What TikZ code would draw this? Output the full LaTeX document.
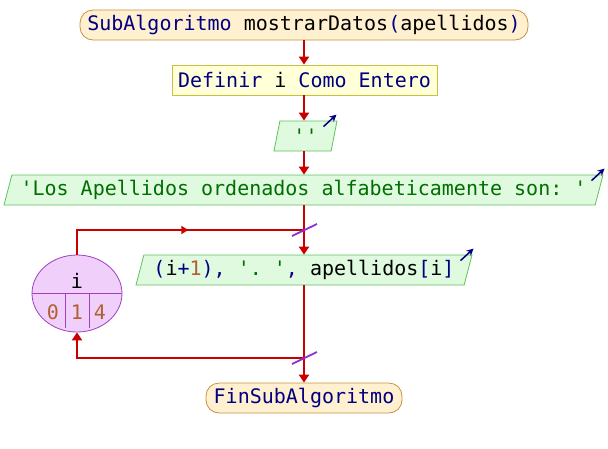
\documentclass[tikz,border=0pt]{standalone}
\usepackage{fontspec}
\usetikzlibrary{calc,decorations.markings}
\usetikzlibrary{shapes.geometric}
\usetikzlibrary{arrows.meta}
\newfontfamily\codefont{DejaVu Sans Mono}
\frenchspacing

\definecolor{flowred}{RGB}{200,0,0}
\definecolor{kwblue}{RGB}{0,0,128}
\definecolor{strgreen}{RGB}{0,110,0}
\definecolor{numbrown}{RGB}{176,96,48}
\definecolor{pillfill}{RGB}{255,240,208}
\definecolor{pilldraw}{RGB}{200,144,64}
\definecolor{defnfill}{RGB}{255,255,216}
\definecolor{defndraw}{RGB}{200,192,64}
\definecolor{iofill}{RGB}{224,250,224}
\definecolor{iodraw}{RGB}{96,192,96}
\definecolor{varfill}{RGB}{240,208,250}
\definecolor{vardraw}{RGB}{160,64,192}
\definecolor{slashcol}{RGB}{144,48,208}

\newcommand{\pkw}[1]{\textcolor{kwblue}{#1}}
\newcommand{\pstr}[1]{\textcolor{strgreen}{#1}}
\newcommand{\pnum}[1]{\textcolor{numbrown}{#1}}

\tikzset{
	every node/.style={font=\codefont\fontsize{20}{24}\selectfont, inner sep=0pt},
	pillbox/.style={draw=pilldraw, fill=pillfill, thick, rounded corners=13pt, minimum height=30pt},
	defnbox/.style={draw=defndraw, fill=defnfill, thick, minimum height=30pt},
	iobox/.style={trapezium, trapezium left angle=68, trapezium right angle=112,
		trapezium stretches body, draw=iodraw, fill=iofill, thick, minimum height=30pt},
	varbox/.style={ellipse, draw=vardraw, fill=varfill, thick},
	flow/.style={flowred, line width=2pt, -{Triangle[length=8pt,width=10pt]}},
	outarrow/.style={kwblue, line width=1.5pt, -{Stealth[length=7pt,width=7pt]}},
	slash/.style={slashcol, line width=1.8pt}
}

\begin{document}
\begin{tikzpicture}[x=1pt,y=-1pt]
	\useasboundingbox (0,0) rectangle (608,448);

	\node[pillbox, minimum width=448pt] (ini) at (304,25)
		{\pkw{SubAlgoritmo} mostrarDatos\pkw{(}apellidos\pkw{)}};
	\node[defnbox, minimum width=265pt] (defn) at (304.5,80)
		{\pkw{Definir} i \pkw{Como Entero}};
	\node[iobox, minimum width=63pt] (esc1) at (305.5,136) {\pstr{''}};
	\node[iobox, minimum width=599pt] (esc2) at (303.5,190)
		{\pstr{'Los Apellidos ordenados alfabeticamente son: '}};
	\node[iobox, minimum width=336pt] (esc3) at (304,270)
		{\pkw{(}i\pkw{+}\pnum{1}\pkw{),} \pstr{'. '}\pkw{,} apellidos\pkw{[}i\pkw{]}};
	\node[pillbox, minimum width=196pt] (fin) at (304,398) {\pkw{FinSubAlgoritmo}};

	% contador del Para
	\node[varbox, minimum width=90pt, minimum height=77pt] (cnt) at (77,293.5) {};
	\node (cvar) at (77,281) {i};
	\node (cini) at (53,312) {\pnum{0}};
	\node (cpas) at (77,312) {\pnum{1}};
	\node (cfin) at (100,312) {\pnum{4}};
	\draw[vardraw, thick] (cnt.west) -- (cnt.east);
	\draw[vardraw, thick] (65,294) -- (65,328);
	\draw[vardraw, thick] (89,294) -- (89,328);

	\coordinate (jtop) at (304,230);
	\coordinate (jbot) at (304,358);

	\draw[flow] (ini.south -| jtop) -- (defn.north -| jtop);
	\draw[flow] (defn.south -| jtop) -- (esc1.north -| jtop);
	\draw[flow] (esc1.south -| jtop) -- (esc2.north -| jtop);
	\draw[flow] (esc2.south -| jtop) -- (esc3.north -| jtop);
	\draw[flow] (esc3.south -| jtop) -- (fin.north -| jtop);
	\draw[flowred, line width=2pt, decoration={ markings,
		mark=at position 0.54 with {\arrow{Triangle[length=7pt,width=8pt]}}},
	postaction={decorate}] (cnt.north) |- (jtop);
	\draw[flow] (jbot) -| (cnt.south);

	\draw[slash] ($(jtop)+(-12,6)$) -- ($(jtop)+(13,-6)$);
	\draw[slash] ($(jbot)+(-12,6)$) -- ($(jbot)+(13,-6)$);

	\draw[outarrow] ([shift={(-14,6)}]esc1.top right corner) -- ++(13,-12);
	\draw[outarrow] ([shift={(-12,6)}]esc2.top right corner) -- ++(13,-12);
	\draw[outarrow] ([shift={(-12,6)}]esc3.top right corner) -- ++(13,-12);
\end{tikzpicture}
\end{document}
